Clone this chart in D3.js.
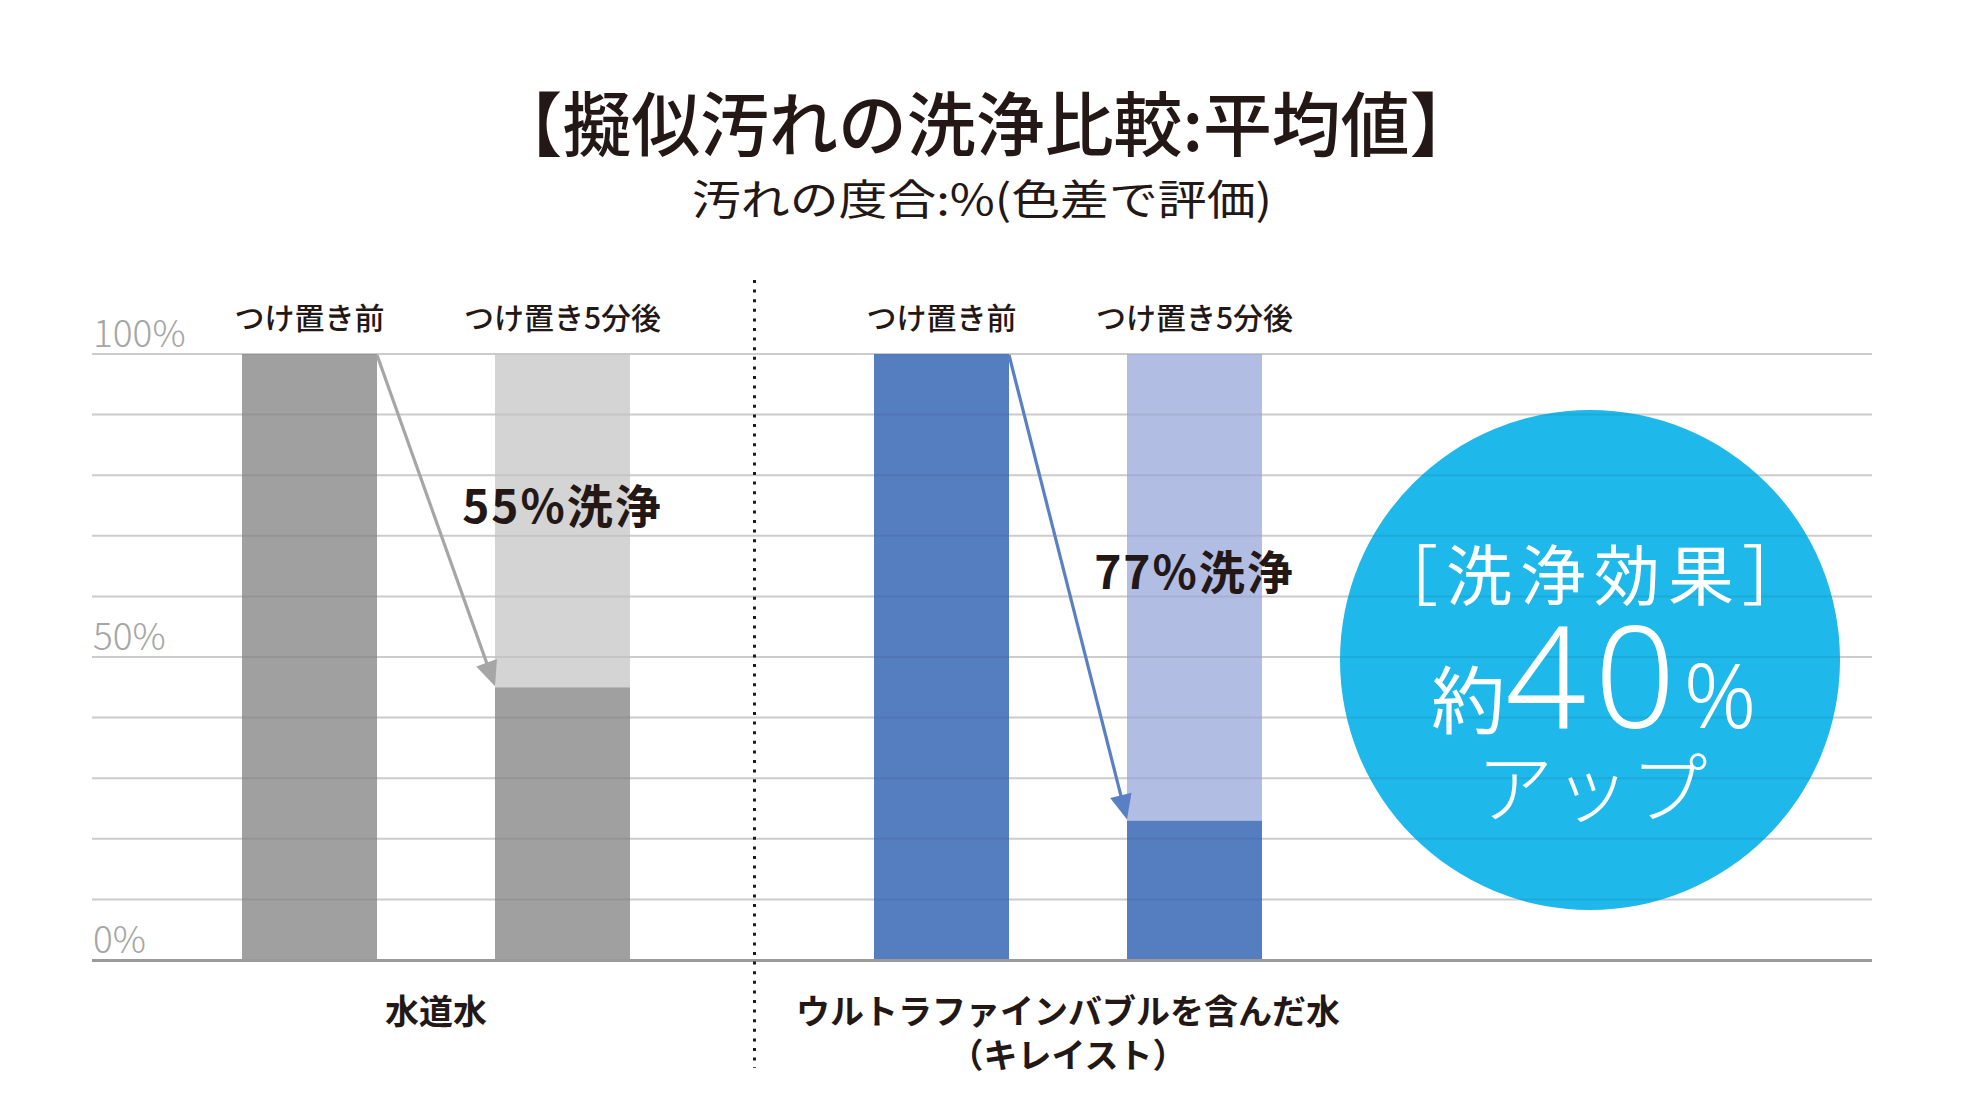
<!DOCTYPE html>
<html lang="ja">
<head>
<meta charset="utf-8">
<title>擬似汚れの洗浄比較</title>
<script src="https://cdn.jsdelivr.net/npm/d3@7"></script>
<style>
  html, body { margin: 0; padding: 0; background: #fff; }
  svg { display: block; }
  text { font-family: "Noto Sans CJK JP", "Noto Sans", sans-serif; }
</style>
</head>
<body>
<svg id="chart" width="1965" height="1119"></svg>
<script>
// --- data ---
const groups = ["tap", "ufb"];
const groupLabels = [["水道水"], ["ウルトラファインバブルを含んだ水", "（キレイスト）"]];
const stages = ["つけ置き前", "つけ置き5分後"];
const beforeValues = [100, 100];   // 汚れの度合 (%) before soaking
const afterValues = [45, 23];      // after 5 minutes
const yTickValues = [0, 50, 100];
const gridValues = d3.range(0, 101, 10);
const badgeTitle = "［洗浄効果］";
const badgePrefix = "約";
const badgeNumber = "40";
const badgeUnit = "%";
const badgeTail = "アップ";

// colours per group
const darkColors = ["#a0a0a0", "#557ec0"];
const lightColors = ["#d4d4d4", "#b1bde2"];
const arrowColors = ["#a6a6a6", "#5a80c4"];
const ink = "#231815";

// --- layout ---
const W = 1965, H = 1119;
const plotLeft = 92, plotRight = 1872;
const barW = 135;

const svg = d3.select("#chart");
svg.append("rect").attr("width", W).attr("height", H).attr("fill", "#fff");

const y = d3.scaleLinear().domain([0, 100]).range([960, 354]);
const x0 = d3.scaleBand().domain(groups).range([120, 1384]);
const x1 = d3.scalePoint().domain(stages).range([x0.bandwidth() / 2 - 126.5, x0.bandwidth() / 2 + 126.5]);
const cx = (g, s) => x0(g) + x1(s);

// title
svg.append("text")
  .attr("x", 986).attr("y", 151)
  .attr("text-anchor", "middle")
  .attr("font-size", 70).attr("font-weight", 500)
  .attr("fill", ink)
  .attr("textLength", 985).attr("lengthAdjust", "spacingAndGlyphs")
  .text("【擬似汚れの洗浄比較:平均値】");

svg.append("text")
  .attr("x", 982).attr("y", 215)
  .attr("text-anchor", "middle")
  .attr("font-size", 42).attr("font-weight", 400)
  .attr("fill", ink)
  .attr("textLength", 580).attr("lengthAdjust", "spacingAndGlyphs")
  .text("汚れの度合:%(色差で評価)");

// gridlines (under bars)
svg.append("g").selectAll("line")
  .data(gridValues.filter(d => d > 0))
  .join("line")
  .attr("x1", plotLeft).attr("x2", plotRight)
  .attr("y1", d => y(d)).attr("y2", d => y(d))
  .attr("stroke", "#dcdcdc").attr("stroke-width", 2);

// y tick labels
svg.append("g").selectAll("text")
  .data(yTickValues)
  .join("text")
  .attr("x", plotLeft + 1)
  .attr("y", d => y(d) - 7)
  .attr("font-family", "'Noto Sans', sans-serif")
  .attr("font-size", 37).attr("font-weight", 300)
  .attr("fill", "#a6a6a6")
  .text(d => d + "%");

// bars
const bars = svg.append("g");
groups.forEach((g, i) => {
  const xb = cx(g, stages[0]) - barW / 2;
  const xa = cx(g, stages[1]) - barW / 2;
  bars.append("rect")
    .attr("x", xb).attr("y", y(beforeValues[i]))
    .attr("width", barW).attr("height", y(0) - y(beforeValues[i]))
    .attr("fill", darkColors[i]);
  // removed part (light), then remaining (dark)
  bars.append("rect")
    .attr("x", xa).attr("y", y(beforeValues[i]))
    .attr("width", barW).attr("height", y(afterValues[i]) - y(beforeValues[i]))
    .attr("fill", lightColors[i]);
  bars.append("rect")
    .attr("x", xa).attr("y", y(afterValues[i]))
    .attr("width", barW).attr("height", y(0) - y(afterValues[i]))
    .attr("fill", darkColors[i]);
});

// badge circle
const badge = { x: 1590, y: 660, r: 250 };
svg.append("circle")
  .attr("cx", badge.x).attr("cy", badge.y).attr("r", badge.r)
  .attr("fill", "#1fb8ea");

// faint gridline overlay over bars and badge
svg.append("g").selectAll("line")
  .data(gridValues.filter(d => d > 0))
  .join("line")
  .attr("x1", plotLeft).attr("x2", plotRight)
  .attr("y1", d => y(d)).attr("y2", d => y(d))
  .attr("stroke", "#000").attr("stroke-opacity", 0.07).attr("stroke-width", 2);

// baseline
svg.append("line")
  .attr("x1", plotLeft).attr("x2", plotRight)
  .attr("y1", y(0) + 0.5).attr("y2", y(0) + 0.5)
  .attr("stroke", "#9a9a9a").attr("stroke-width", 3);

// dotted divider between groups
const divX = x0(groups[1]) + 2.5;
svg.append("line")
  .attr("x1", divX).attr("x2", divX)
  .attr("y1", 280).attr("y2", 1068)
  .attr("stroke", ink).attr("stroke-width", 3)
  .attr("stroke-dasharray", "3 6.6");

// stage labels above bars
groups.forEach(g => {
  svg.append("g").selectAll("text")
    .data(stages)
    .join("text")
    .attr("x", s => cx(g, s))
    .attr("y", y(100) - 25)
    .attr("text-anchor", "middle")
    .attr("font-size", 30).attr("font-weight", 500)
    .attr("fill", ink)
    .text(s => s);
});

// arrows + cleaning labels
groups.forEach((g, i) => {
  const xs = cx(g, stages[0]) + barW / 2, ys = y(beforeValues[i]) + 1;
  const xe = cx(g, stages[1]) - barW / 2, ye = y(afterValues[i]) - 1;
  const ang = Math.atan2(ye - ys, xe - xs);
  const headL = 25, headW = 11;
  const bx = xe - headL * Math.cos(ang), by = ye - headL * Math.sin(ang);
  const px = -Math.sin(ang) * headW, py = Math.cos(ang) * headW;

  svg.append("line")
    .attr("x1", xs).attr("y1", ys)
    .attr("x2", bx + 2 * Math.cos(ang)).attr("y2", by + 2 * Math.sin(ang))
    .attr("stroke", arrowColors[i]).attr("stroke-width", 3.2);
  svg.append("path")
    .attr("d", `M${xe},${ye}L${bx + px},${by + py}L${bx - px},${by - py}Z`)
    .attr("fill", arrowColors[i]);

  svg.append("text")
    .attr("x", cx(g, stages[1]))
    .attr("y", (ys + ye) / 2 + 2)
    .attr("text-anchor", "middle")
    .attr("font-size", 46).attr("font-weight", 700)
    .attr("letter-spacing", 2)
    .attr("fill", ink)
    .text((beforeValues[i] - afterValues[i]) + "%洗浄");
});

// group labels under axis
groups.forEach((g, i) => {
  svg.append("g").selectAll("text")
    .data(groupLabels[i])
    .join("text")
    .attr("x", x0(g) + x0.bandwidth() / 2)
    .attr("y", (d, k) => 1024 + k * 44)
    .attr("text-anchor", "middle")
    .attr("font-size", 34).attr("font-weight", 700)
    .attr("fill", ink)
    .text(d => d);
});

// badge text
svg.append("text")
  .attr("x", badge.x + 4).attr("y", 600)
  .attr("text-anchor", "middle")
  .attr("font-size", 66).attr("font-weight", 400)
  .attr("letter-spacing", 8)
  .attr("fill", "#fff")
  .text(badgeTitle);

const mid = svg.append("text")
  .attr("x", badge.x + 4).attr("y", 728)
  .attr("text-anchor", "middle")
  .attr("fill", "#fff");
mid.append("tspan").attr("font-size", 74).attr("font-weight", 400).text(badgePrefix);
mid.append("tspan").attr("font-size", 142).attr("font-weight", 300)
  .attr("font-family", "'Noto Sans', sans-serif").attr("letter-spacing", 8).text(badgeNumber);
mid.append("tspan").attr("font-size", 90).attr("font-weight", 300)
  .attr("font-family", "'Noto Sans', sans-serif").text(badgeUnit);

svg.append("text")
  .attr("x", badge.x + 2).attr("y", 817)
  .attr("text-anchor", "middle")
  .attr("font-size", 77).attr("font-weight", 300)
  .attr("fill", "#fff")
  .text(badgeTail);
</script>
</body>
</html>
